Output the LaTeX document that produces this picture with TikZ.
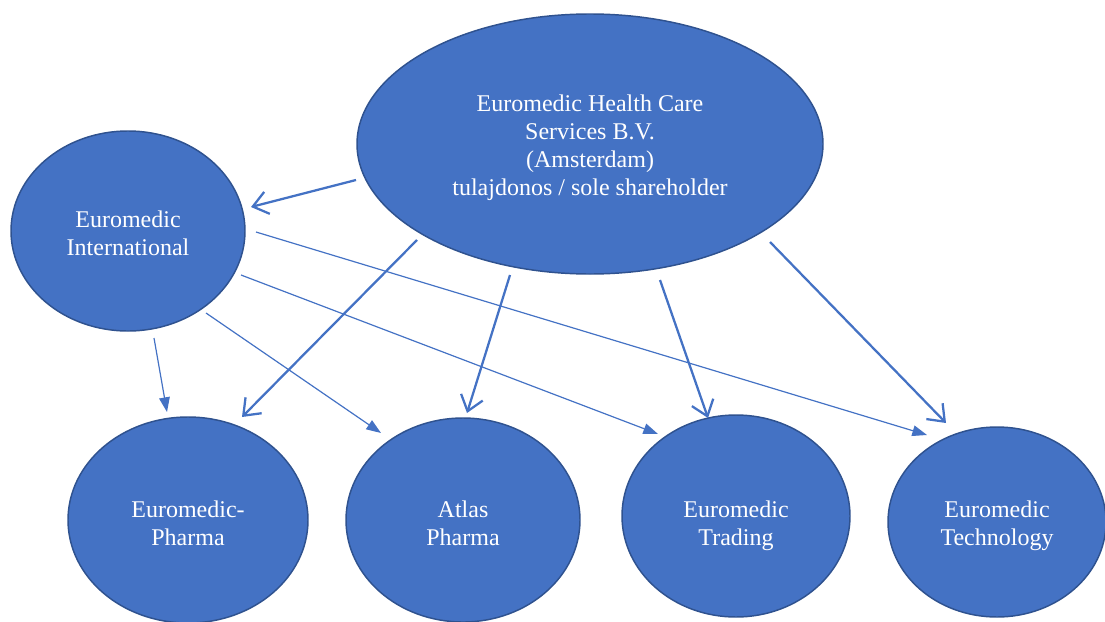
\documentclass[tikz,border=0pt]{standalone}
\usepackage{fontspec}
\setmainfont{Liberation Serif}
\usetikzlibrary{shapes.geometric,arrows.meta,calc}
\definecolor{fillblue}{HTML}{4472C4}
\definecolor{edgeblue}{HTML}{2F528F}
\begin{document}
\begin{tikzpicture}[x=0.75pt,y=-0.75pt,
  org/.style={ellipse,fill=fillblue,draw=edgeblue,line width=1.1pt,inner sep=0pt},
  lbl/.style={text=white,align=center,font=\fontsize{18}{20.8}\selectfont,inner sep=0pt},
  own/.style={draw=fillblue,line width=1.7pt,-{Straight Barb[length=11pt,width=17pt,line width=1.7pt]}},
  sub/.style={draw=fillblue,line width=0.9pt,-{Triangle[length=11pt,width=8pt,fill=fillblue]}}]
\useasboundingbox (0,0) rectangle (1105,621);
\node[org,minimum width=349.5pt,minimum height=195pt,
  label={[lbl,yshift=-2.8pt]center:{Euromedic Health Care\\Services B.V.\\(Amsterdam)\\tulajdonos / sole shareholder}}] (top) at (590,144) {};
\node[org,minimum width=175.5pt,minimum height=150pt,
  label={[lbl,yshift=-1.8pt]center:{Euromedic\\International}}] (intl) at (128,231) {};
\node[org,minimum width=180pt,minimum height=154.5pt,
  label={[lbl,yshift=-2.4pt]center:{Euromedic-\\Pharma}}] (ph) at (188,520) {};
\node[org,minimum width=175.5pt,minimum height=153pt,
  label={[lbl,yshift=-2.4pt]center:{Atlas\\Pharma}}] (at) at (463,520) {};
\node[org,minimum width=171pt,minimum height=151.5pt,
  label={[lbl,yshift=-7.2pt]center:{Euromedic\\Trading}}] (tr) at (736,516) {};
\node[org,minimum width=163.5pt,minimum height=142.5pt,
  label={[lbl,yshift=-2.6pt]center:{Euromedic\\Technology}}] (te) at (997,522) {};
% ownership arrows from top
\draw[own] ($(top)+(-234,36)$) -- ($(intl)+(123,-24)$);
\draw[own] ($(top)+(-173,96)$) -- ($(ph)+(54,-103)$);
\draw[own] ($(top)+(-80,131)$) -- ($(at)+(4,-107)$);
\draw[own] ($(top)+(70,136)$) -- ($(tr)+(-28,-98)$);
\draw[own] ($(top)+(180,98)$) -- ($(te)+(-51,-99)$);
% arrows from International
\draw[sub] ($(intl)+(26,107)$) -- ($(ph)+(-21,-108)$);
\draw[sub] ($(intl)+(78,82)$) -- ($(at)+(-82,-87)$);
\draw[sub] ($(intl)+(113,44)$) -- ($(tr)+(-78,-82)$);
\draw[sub] ($(intl)+(128,1)$) -- ($(te)+(-70,-87)$);
\end{tikzpicture}
\end{document}
